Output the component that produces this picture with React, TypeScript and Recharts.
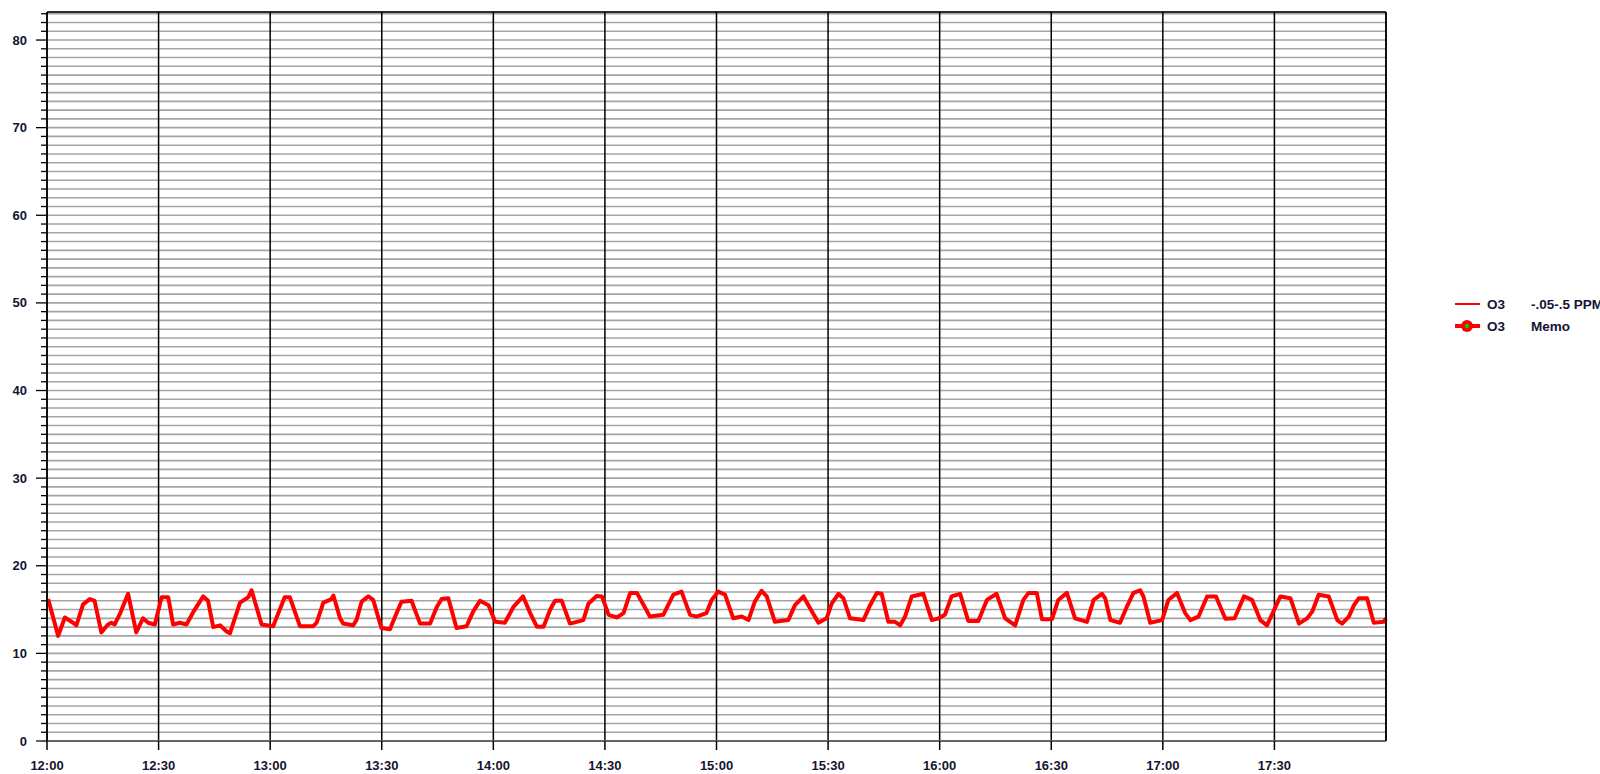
import React from "react";
import { LineChart, Line, XAxis, YAxis, CartesianGrid } from "recharts";

// minutes after 12:00
const times = [
  0.3, 3.0, 4.8, 7.0, 7.9, 9.7, 11.5, 12.8, 14.6, 16.4, 17.3, 18.2, 19.6, 21.8, 24.0, 25.8, 27.2, 29.0,
  30.8, 32.6, 33.9, 35.7, 37.5, 39.3, 42.0, 43.3, 44.7, 46.5, 48.3, 49.2, 51.9, 54.1, 55.0, 57.7,
  60.8, 63.9, 65.3, 68.0, 71.6, 72.5, 74.3, 76.5, 77.0, 78.8,
  79.6, 82.3, 83.2, 84.6, 86.4, 87.7, 89.9, 92.2, 94.0, 95.3, 98.0, 100.3, 103.0, 104.8, 106.1, 107.9,
  110.1, 112.8, 114.6, 116.4, 118.7, 120.5, 123.1, 125.4, 128.0, 129.9, 131.7, 133.5, 135.3, 136.6,
  138.4, 140.6, 142.4, 144.2, 145.6, 147.8, 149.2, 151.0, 153.2, 155.0, 156.8, 158.6,
  160.7, 162.1, 165.7, 168.4, 170.6, 172.9, 174.6, 177.3, 178.7, 180.5, 182.3, 184.5, 186.8, 188.6,
  190.3, 192.1, 193.5, 195.7, 199.3, 201.1, 203.4, 204.7, 207.4, 209.6, 211.0, 212.8, 214.1, 215.9,
  219.5, 221.3, 223.1, 224.4, 226.2, 228.0, 229.4, 230.7, 232.5, 235.6, 237.9, 239.7,
  241.4, 243.2, 245.5, 247.7, 250.4, 252.7, 255.3, 257.6, 260.3, 262.5, 263.9, 266.1, 267.5, 270.2,
  271.9, 274.2, 276.4, 279.6, 281.4, 283.6, 284.5, 285.9, 288.5, 290.3, 292.1, 293.9, 294.8, 296.6,
  299.8, 301.5, 303.8, 306.0, 307.4, 309.6, 311.9, 314.3, 316.8, 319.3,
  321.8, 324.0, 326.2, 328.0, 330.3, 331.6, 334.3, 336.6, 338.8, 340.2, 341.9, 344.6, 346.9, 348.2,
  350.0, 351.4, 352.7, 354.9, 356.7, 359.4, 360.0,
];

const o3Values = [
  16.2, 12.0, 14.1, 13.5, 13.2, 15.6, 16.2, 16.0, 12.4, 13.3, 13.5, 13.3, 14.5, 16.8, 12.4, 14.0, 13.5, 13.3,
  16.4, 16.4, 13.3, 13.5, 13.3, 14.7, 16.5, 16.0, 13.0, 13.2, 12.5, 12.3, 15.8, 16.4, 17.2, 13.3,
  13.1, 16.4, 16.4, 13.1, 13.1, 13.5, 15.8, 16.2, 16.6, 14.0,
  13.4, 13.2, 13.8, 15.9, 16.5, 16.1, 12.9, 12.75, 14.6, 15.9, 16.0, 13.4, 13.4, 15.3, 16.2, 16.3,
  12.9, 13.1, 14.8, 16.0, 15.5, 13.6, 13.5, 15.3, 16.5, 14.6, 13.05, 13.05, 15.0, 16.0,
  16.0, 13.4, 13.6, 13.8, 15.7, 16.55, 16.5, 14.4, 14.1, 14.6, 16.9, 16.9,
  15.3, 14.2, 14.4, 16.7, 17.05, 14.4, 14.2, 14.6, 16.1, 17.05, 16.7, 14.0, 14.2, 13.8,
  15.9, 17.15, 16.5, 13.6, 13.8, 15.5, 16.5, 15.5, 13.5, 14.0, 15.7, 16.8, 16.3, 14.0,
  13.8, 15.5, 16.9, 16.8, 13.6, 13.6, 13.2, 14.2, 16.5, 16.8, 13.8, 14.0,
  14.4, 16.5, 16.8, 13.7, 13.7, 16.1, 16.8, 14.0, 13.2, 16.1, 16.9, 16.9, 13.9, 13.9,
  16.1, 16.9, 14.0, 13.6, 16.1, 16.8, 16.3, 13.8, 13.5, 15.3, 16.9, 17.2, 16.5, 13.5,
  13.8, 16.1, 16.9, 14.6, 13.8, 14.2, 16.5, 16.5, 13.95, 14.0,
  16.5, 16.1, 13.8, 13.2, 15.3, 16.5, 16.3, 13.4, 14.0, 14.8, 16.7, 16.5, 13.8, 13.4,
  14.2, 15.5, 16.3, 16.3, 13.5, 13.6, 14.0,
];

const xTicks = [0, 30, 60, 90, 120, 150, 180, 210, 240, 270, 300, 330];
const xTickLabels = ["12:00", "12:30", "13:00", "13:30", "14:00", "14:30", "15:00", "15:30", "16:00", "16:30", "17:00", "17:30"];
const yMinorTicks = Array.from({ length: 84 }, (_, i) => i);
const yMajorTicks = [0, 10, 20, 30, 40, 50, 60, 70, 80];

const data = times.map((t, i) => ({ t, o3: o3Values[i] }));

const FONT = "'Liberation Sans', Arial, sans-serif";
const TXT = "#141432";

const LeftTick = (props: any) => {
  const { x, y, payload } = props;
  const v = payload.value;
  if (v % 10 !== 0) return <g />;
  return (
    <g>
      <line x1={x + 9} x2={x + 14} y1={y} y2={y} stroke={v === 0 ? "#666" : "#000"} strokeWidth={v === 0 ? 2 : 1.3} />
      <text x={x} y={y} dy={4.5} textAnchor="end" fill={TXT} fontSize={13} fontWeight="bold" fontFamily={FONT}>
        {v}
      </text>
    </g>
  );
};

const RightTick = (props: any) => {
  const { x, y, payload } = props;
  const v = payload.value;
  if (v % 10 !== 0) return <g />;
  return (
    <g>
      <line x1={x - 13} x2={x - 8} y1={y} y2={y} stroke={v === 0 ? "#666" : "#000"} strokeWidth={v === 0 ? 2 : 1.3} />
      <text x={x} y={y} dy={4.5} textAnchor="start" fill={TXT} fontSize={13} fontWeight="bold" fontFamily={FONT}>
        {v}
      </text>
    </g>
  );
};

const legendText: React.CSSProperties = {
  position: "absolute",
  fontFamily: FONT,
  fontSize: 13.5,
  fontWeight: "bold",
  color: TXT,
  lineHeight: "15px",
  whiteSpace: "nowrap",
};

export default function App() {
  return (
    <div style={{ position: "absolute", left: 0, top: 0, width: 1600, height: 774, background: "#fff", overflow: "hidden" }}>
      <LineChart width={1600} height={774} data={data} margin={{ top: 12, right: 0, bottom: 0, left: 0 }}>
        <CartesianGrid yAxisId="left" stroke="#a4a4a4" strokeWidth={1.6} vertical={false} />
        <CartesianGrid yAxisId="major" stroke="#000" strokeWidth={1.5} vertical={true} />
        <XAxis
          dataKey="t"
          type="number"
          domain={[0, 360]}
          ticks={xTicks}
          interval={0}
          tickFormatter={(v: number) => xTickLabels[xTicks.indexOf(v)]}
          height={33}
          tickSize={9}
          tickMargin={11}
          axisLine={{ stroke: "#666", strokeWidth: 2 }}
          tickLine={{ stroke: "#000", strokeWidth: 1.5 }}
          tick={{ fill: TXT, fontSize: 13, fontWeight: "bold", fontFamily: FONT }}
        />
        <YAxis
          yAxisId="left"
          orientation="left"
          width={47}
          domain={[0, 83.2]}
          ticks={yMinorTicks}
          interval={0}
          tickSize={6}
          tickMargin={14}
          axisLine={{ stroke: "#000", strokeWidth: 1.5 }}
          tickLine={{ stroke: "#000", strokeWidth: 1.3 }}
          tick={<LeftTick />}
        />
        <YAxis
          yAxisId="right"
          orientation="right"
          width={214}
          domain={[0, 83.2]}
          ticks={yMinorTicks}
          interval={0}
          tickSize={6}
          tickMargin={13}
          axisLine={{ stroke: "#000", strokeWidth: 1.5 }}
          tickLine={{ stroke: "#000", strokeWidth: 1.3 }}
          tick={<RightTick />}
        />
        <YAxis yAxisId="major" hide domain={[0, 83.2]} ticks={yMajorTicks} interval={0} />
        <Line
          yAxisId="left"
          type="linear"
          dataKey="o3"
          stroke="#ff0000"
          strokeWidth={4}
          strokeLinejoin="round"
          dot={false}
          isAnimationActive={false}
        />
      </LineChart>
      <svg style={{ position: "absolute", left: 1450, top: 294 }} width={40} height={44}>
        <line x1={5} x2={30} y1={10} y2={10} stroke="#ff0000" strokeWidth={2} />
        <line x1={5} x2={30} y1={32} y2={32} stroke="#ff0000" strokeWidth={4} />
        <circle cx={17} cy={32} r={6} fill="#ff0000" />
        <circle cx={17} cy={32} r={2.2} fill="#00d000" />
      </svg>
      <div style={{ ...legendText, left: 1487, top: 297 }}>O3</div>
      <div style={{ ...legendText, left: 1531, top: 297 }}>-.05-.5 PPM</div>
      <div style={{ ...legendText, left: 1487, top: 319 }}>O3</div>
      <div style={{ ...legendText, left: 1531, top: 319 }}>Memo</div>
    </div>
  );
}
